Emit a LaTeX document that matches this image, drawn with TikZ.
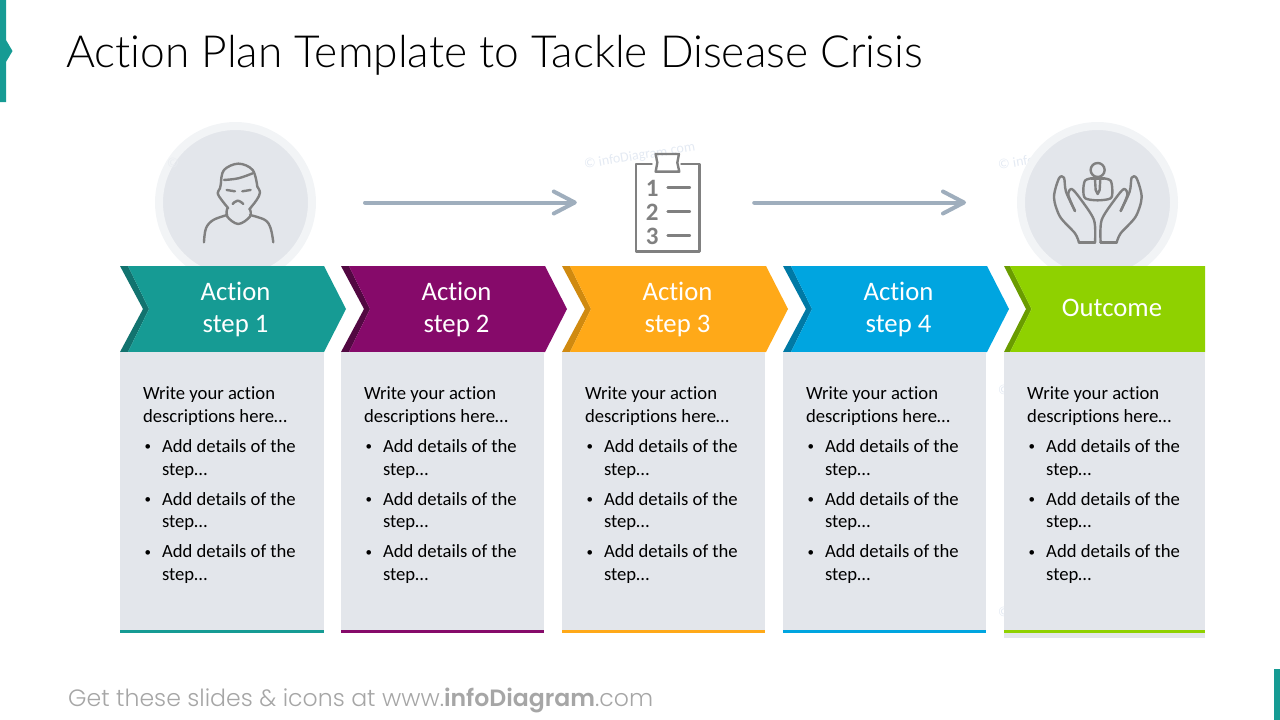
\documentclass[tikz,border=0pt]{standalone}
\usepackage{fontspec}
\setmainfont{Carlito}[Ligatures=NoCommon]
\newfontfamily\titlefont{Lato Light}[Ligatures=NoCommon]
\newfontfamily\footfont{Poppins Light}[BoldFont=Poppins SemiBold]
\usetikzlibrary{arrows.meta,positioning}
\definecolor{tealc}{HTML}{169B94}
\definecolor{tealdark}{HTML}{12736F}
\definecolor{plumc}{HTML}{860A6A}
\definecolor{plumdark}{HTML}{520842}
\definecolor{amberc}{HTML}{FFA918}
\definecolor{amberdark}{HTML}{D08A10}
\definecolor{bluec}{HTML}{00A5E0}
\definecolor{bluedark}{HTML}{0079A5}
\definecolor{greenc}{HTML}{8FD100}
\definecolor{greendark}{HTML}{6A9C00}
\definecolor{boxgrey}{HTML}{E3E6EB}
\definecolor{ringgrey}{HTML}{F2F4F6}
\definecolor{icongrey}{HTML}{808080}
\definecolor{arrowgrey}{HTML}{9FAEBD}
\definecolor{markgrey}{HTML}{E4EAF3}
\definecolor{markring}{HTML}{EAEDF1}
\definecolor{footgrey}{HTML}{A6A6A6}
\tikzset{
  iconline/.style={draw=icongrey, line width=2.4pt, line join=round, line cap=round},
  flowarrow/.style={draw=arrowgrey, line width=4pt, line cap=round,
    -{Straight Barb[length=21pt,width=22pt,round]}},
  ringnode/.style={circle, fill=boxgrey, draw=ringgrey, line width=8pt, minimum size=153pt, inner sep=0pt},
  headnode/.style={text=white, align=center, font=\fontsize{26.7}{32}\selectfont},
  boxnode/.style={fill=boxgrey, inner sep=0pt, anchor=north west},
  descnode/.style={inner sep=0pt, anchor=north west, font=\fontsize{18.67}{23}\selectfont},
  marknode/.style={text=markgrey, rotate=9, anchor=west, inner sep=0pt, font=\fontsize{14}{16}\selectfont},
  numnode/.style={text=icongrey, inner sep=0pt, font=\fontsize{25}{25}\selectfont\bfseries},
}
\newcommand{\stepbullet}{\hspace{1.5pt}\raisebox{1.5pt}{\fontsize{13}{13}\selectfont\textbullet}}
\newcommand{\stepdesc}{%
  \begin{tabular}{@{}p{19pt}@{}l@{}}
    \multicolumn{2}{@{}l@{}}{Write your action} \\
    \multicolumn{2}{@{}l@{}}{descriptions here\ldots} \\[7pt]
    \stepbullet & Add details of the \\
     & step\ldots \\[7pt]
    \stepbullet & Add details of the \\[-0.5pt]
     & step\ldots \\[7pt]
    \stepbullet & Add details of the \\[-0.5pt]
     & step\ldots
  \end{tabular}%
}
\begin{document}
\begin{tikzpicture}[x=1pt,y=-1pt]
\useasboundingbox (0,0) rectangle (1280,720);
% side tabs
\fill[tealc] (0,0) -- (6,0) -- (6,40) -- (12.5,51) -- (6,62) -- (6,102) -- (0,102) -- cycle;
\fill[tealc] (1274,669) rectangle (1280,720);
% title
\node[anchor=west, inner sep=0pt, font=\titlefont\fontsize{44.3}{50}\selectfont] (title) at (66,55)
  {Action Plan Template to Tackle Disease Crisis};
% watermarks
\node[marknode] (mark1) at (584,165) {© infoDiagram.com};
\node[marknode] (mark2) at (998,165) {© infoD};
\node[marknode] (mark3) at (998,391) {©};
\node[marknode] (mark4) at (998,613) {©};
% circles
\node[ringnode] (sick) at (235.5,202.5) {};
\node[ringnode] (care) at (1097.5,202.5) {};
\node[marknode, text=markring] (mark5) at (167,164) {©};
\node[minimum width=64pt, minimum height=100pt, inner sep=0pt] (clip) at (668,202.5) {};
% arrows
\draw[flowarrow, shorten <=49pt, shorten >=59pt] (sick) -- (clip);
\draw[flowarrow, shorten <=54pt, shorten >=51pt] (clip) -- (care);
% steps
\foreach \i/\x/\boxw/\colr/\colrd in {1/120/204/tealc/tealdark, 2/341/203/plumc/plumdark, 3/562/203/amberc/amberdark, 4/783/203/bluec/bluedark}{
  \fill[\colrd] (\x,266) -- (\x+8,266) -- (\x+29,309) -- (\x+8,352) -- (\x,352) -- (\x+23,309) -- cycle;
  \fill[\colr] (\x+8,266) -- (\x+204,266) -- (\x+226,309) -- (\x+204,352) -- (\x+8,352) -- (\x+29,309) -- cycle;
  \node[headnode] (head\i) at (\x+115.5,309.5) {Action\\step \i};
  \node[boxnode, minimum width=\boxw pt, minimum height=281pt] (box\i) at (\x,352) {};
  \fill[\colr] (\x,630) rectangle (\x+\boxw,633);
  \node[descnode] (desc\i) at (\x+22.8,383) {\stepdesc};
}
% outcome
\fill[greendark] (1004,266) -- (1010,266) -- (1031.5,309) -- (1010,352) -- (1004,352) -- (1026,309) -- cycle;
\fill[greenc] (1010,266) -- (1205,266) -- (1205,352) -- (1010,352) -- (1031.5,309) -- cycle;
\node[headnode] (head5) at (1112,308) {Outcome};
\node[boxnode, minimum width=201pt, minimum height=286pt] (box5) at (1004,352) {};
\fill[greenc] (1004,630) rectangle (1205,633);
\node[descnode] (desc5) at (1027,383) {\stepdesc};
% sick person icon
\begin{scope}[x=0.3333pt,y=-0.3333pt]
  \draw[iconline] plot[smooth,tension=.6] coordinates {(663,548) (672,510) (715,491) (758,510) (772,560)};
  \draw[iconline] plot[smooth,tension=.6] coordinates {(672,540) (715,535) (758,520)};
  \draw[iconline] plot[smooth,tension=.6] coordinates {(663,548) (660,565) (653,580) (665,600) (685,625)};
  \draw[iconline] plot[smooth,tension=.6] coordinates {(772,560) (780,578) (770,600) (748,628)};
  \draw[iconline] plot[smooth,tension=.6] coordinates {(682,625) (682,650) (715,672) (750,650) (750,628)};
  \draw[iconline] plot[smooth,tension=.6] coordinates {(682,645) (640,660) (618,685) (612,727)};
  \draw[iconline] plot[smooth,tension=.6] coordinates {(750,645) (795,660) (812,685) (820,727)};
  \draw[iconline] (680,570) -- (705,574);
  \draw[iconline] (727,574) -- (752,570);
  \draw[iconline] plot[smooth,tension=.8] coordinates {(698,612) (713,602) (730,612)};
\end{scope}
% clipboard icon
\begin{scope}[shift={(540,120)},x=0.3333pt,y=-0.3333pt]
  \draw[iconline] (335,132) -- (288,132) -- (288,395) -- (478,395) -- (478,132) -- (424,132);
  \draw[iconline] (347,102) -- (417,102) -- (412,128) -- (418,155) -- (347,155) -- (352,128) -- cycle;
  \foreach \n/\ny/\ly in {1/206/203, 2/278/274, 3/350/346}{
    \node[numnode] (num\n) at (337,\ny) {\n};
    \draw[iconline] (383,\ly) -- (450,\ly);
  }
\end{scope}
% care icon
\begin{scope}[shift={(960,110)},x=0.3333pt,y=-0.3333pt]
  \draw[iconline] (413,180) circle (21);
  \draw[iconline] plot[smooth,tension=.5] coordinates {(394,205) (375,212) (370,240) (376,265) (413,271) (452,265) (457,240) (452,212) (432,205)};
  \draw[iconline] (394,205) -- (432,205);
  \draw[iconline] (405,207) -- (407,240) -- (413,252) -- (419,240) -- (421,207);
  \draw[iconline] (405,398) -- (357,398);
  \draw[iconline] plot[smooth,tension=.5] coordinates {(357,398) (345,370) (300,320) (282,262) (297,205) (312,203) (318,245) (345,303)};
  \draw[iconline] plot[smooth,tension=.5] coordinates {(345,303) (325,255) (335,237) (360,265) (402,330) (405,398)};
  \draw[iconline] (422,398) -- (470,398);
  \draw[iconline] plot[smooth,tension=.5] coordinates {(470,398) (482,370) (527,320) (545,262) (530,205) (515,203) (509,245) (482,303)};
  \draw[iconline] plot[smooth,tension=.5] coordinates {(482,303) (502,255) (492,237) (467,265) (425,330) (422,398)};
\end{scope}
% footer
\node[anchor=west, inner sep=0pt, text=footgrey, font=\footfont\fontsize{23.6}{28}\selectfont] (foot) at (68,700)
  {Get these slides \& icons at www.\textbf{infoDiagram}.com};
\end{tikzpicture}
\end{document}
